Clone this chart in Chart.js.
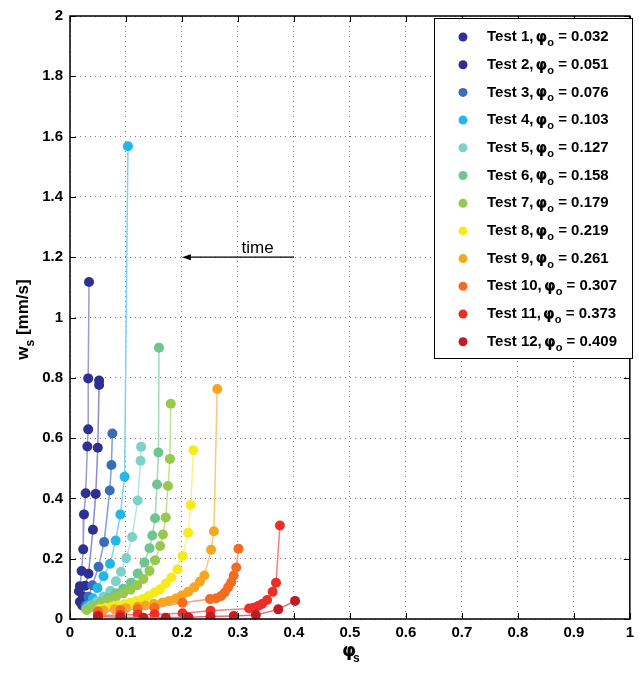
<!DOCTYPE html>
<html>
<head>
<meta charset="utf-8">
<script src="https://cdn.jsdelivr.net/npm/chart.js@4.4.1/dist/chart.umd.min.js"></script>
<style>
  html, body { margin: 0; padding: 0; background: #fff; }
  #wrap { width: 639px; height: 674px; }
</style>
</head>
<body>
<div id="wrap"><canvas id="settlingChart" width="639" height="674"></canvas></div>
<script>
// Test series: [phi_s, w_s (mm/s)]
const test1 = [[0.034,1.118],[0.0325,0.798],[0.0325,0.629],[0.031,0.572],[0.028,0.417],[0.025,0.347],[0.0236,0.231],[0.0207,0.159],[0.0177,0.109],[0.016,0.092],[0.0177,0.057],[0.022,0.045]];
const test2 = [[0.052,0.791],[0.052,0.776],[0.0496,0.568],[0.046,0.415],[0.041,0.296],[0.033,0.150],[0.027,0.11],[0.023,0.075],[0.026,0.045]];
const test3 = [[0.0757,0.615],[0.074,0.511],[0.071,0.426],[0.061,0.255],[0.051,0.173],[0.040,0.112],[0.033,0.074],[0.028,0.045]];
const test4 = [[0.1035,1.568],[0.0975,0.472],[0.090,0.347],[0.0816,0.260],[0.0715,0.183],[0.060,0.142],[0.049,0.103],[0.041,0.068],[0.032,0.045],[0.028,0.035]];
const test5 = [[0.127,0.571],[0.126,0.525],[0.121,0.393],[0.111,0.272],[0.1005,0.202],[0.091,0.157],[0.082,0.125],[0.072,0.093],[0.060,0.075],[0.048,0.058],[0.038,0.045],[0.030,0.035]];
const test6 = [[0.159,0.90],[0.158,0.552],[0.1555,0.446],[0.152,0.334],[0.147,0.277],[0.142,0.235],[0.133,0.187],[0.121,0.151],[0.109,0.120],[0.095,0.100],[0.082,0.085],[0.068,0.070],[0.055,0.055],[0.042,0.043],[0.030,0.032]];
const test7 = [[0.180,0.714],[0.1785,0.531],[0.175,0.441],[0.171,0.337],[0.166,0.280],[0.161,0.242],[0.152,0.195],[0.142,0.159],[0.131,0.133],[0.120,0.112],[0.108,0.097],[0.095,0.085],[0.082,0.073],[0.068,0.061],[0.055,0.050],[0.042,0.040],[0.030,0.030]];
const test8 = [[0.2204,0.560],[0.2157,0.3785],[0.211,0.286],[0.201,0.209],[0.192,0.165],[0.181,0.1375],[0.171,0.118],[0.161,0.099],[0.151,0.088],[0.1405,0.076],[0.130,0.066],[0.119,0.060],[0.108,0.054],[0.097,0.049],[0.086,0.045],[0.075,0.041],[0.064,0.037],[0.053,0.033]];
const test9 = [[0.263,0.763],[0.257,0.291],[0.252,0.230],[0.240,0.144],[0.232,0.124],[0.222,0.105],[0.211,0.090],[0.200,0.079],[0.189,0.068],[0.177,0.060],[0.165,0.055],[0.150,0.050],[0.135,0.045],[0.121,0.041],[0.100,0.036],[0.080,0.032],[0.060,0.028],[0.050,0.026]];
const test10 = [[0.301,0.233],[0.297,0.171],[0.2925,0.144],[0.288,0.122],[0.2825,0.105],[0.2766,0.088],[0.270,0.076],[0.261,0.069],[0.250,0.066],[0.201,0.054],[0.151,0.037],[0.121,0.033],[0.090,0.030],[0.050,0.025]];
const test11 = [[0.375,0.310],[0.368,0.120],[0.362,0.090],[0.352,0.063],[0.343,0.0495],[0.336,0.043],[0.328,0.037],[0.320,0.035],[0.251,0.027],[0.201,0.019],[0.151,0.016],[0.121,0.015],[0.090,0.013],[0.050,0.012]];
const test12 = [[0.402,0.060],[0.372,0.032],[0.332,0.013],[0.2925,0.010],[0.251,0.008],[0.2115,0.006],[0.171,0.004],[0.131,0.004],[0.090,0.006],[0.050,0.008]];

const allTests = [test1, test2, test3, test4, test5, test6, test7, test8, test9, test10, test11, test12];
const testNames = ['Test 1', 'Test 2', 'Test 3', 'Test 4', 'Test 5', 'Test 6', 'Test 7', 'Test 8', 'Test 9', 'Test 10', 'Test 11', 'Test 12'];
const phi0 = ['0.032', '0.051', '0.076', '0.103', '0.127', '0.158', '0.179', '0.219', '0.261', '0.307', '0.373', '0.409'];
const markerColors = ['#2e3192', '#2f2f8f', '#3b6cb7', '#22b6ea', '#7fd0c8', '#6fc48f', '#98c94d', '#f6ea1e', '#f8a520', '#f26c23', '#ec2f26', '#c41a24'];
const lineColors = ['#9a9ccc', '#8b8bc6', '#7d9fd2', '#7fd2f2', '#b6e5e0', '#a2dab7', '#c1df93', '#faf282', '#fac87a', '#f7a077', '#f3807a', '#dd7075'];

const xTicks = [0, 0.1, 0.2, 0.3, 0.4, 0.5, 0.6, 0.7, 0.8, 0.9, 1];
const yTicks = [0, 0.2, 0.4, 0.6, 0.8, 1, 1.2, 1.4, 1.6, 1.8, 2];

// Arrow annotation
const arrowFrom = [0.4, 1.2];
const arrowTo = [0.2, 1.2];

const boldFont = 'bold 15px "Liberation Sans", Arial, sans-serif';

// Draw frame, inward ticks, axis titles, arrow and legend
const decorations = {
    id: 'decorations',
    afterDraw(chart) {
        const ctx = chart.ctx;
        const area = chart.chartArea;
        const xs = chart.scales.x;
        const ys = chart.scales.y;

        ctx.save();
        // box
        ctx.strokeStyle = '#000';
        ctx.lineWidth = 1.5;
        ctx.strokeRect(area.left, area.top, area.right - area.left, area.bottom - area.top);

        // inward ticks
        ctx.lineWidth = 1;
        ctx.beginPath();
        xTicks.forEach(v => {
            const px = Math.round(xs.getPixelForValue(v)) + 0.5;
            ctx.moveTo(px, area.bottom); ctx.lineTo(px, area.bottom - 6);
            ctx.moveTo(px, area.top); ctx.lineTo(px, area.top + 6);
        });
        yTicks.forEach(v => {
            const py = Math.round(ys.getPixelForValue(v)) + 0.5;
            ctx.moveTo(area.left, py); ctx.lineTo(area.left + 6, py);
            ctx.moveTo(area.right, py); ctx.lineTo(area.right - 6, py);
        });
        ctx.stroke();

        // time arrow
        const ax1 = xs.getPixelForValue(arrowFrom[0]);
        const ax2 = xs.getPixelForValue(arrowTo[0]);
        const ay = ys.getPixelForValue(arrowFrom[1]);
        ctx.strokeStyle = '#000';
        ctx.lineWidth = 1.3;
        ctx.beginPath();
        ctx.moveTo(ax1, ay); ctx.lineTo(ax2 + 4, ay);
        ctx.stroke();
        ctx.fillStyle = '#000';
        ctx.beginPath();
        ctx.moveTo(ax2, ay);
        ctx.lineTo(ax2 + 9, ay - 3);
        ctx.lineTo(ax2 + 9, ay + 3);
        ctx.closePath();
        ctx.fill();
        ctx.font = '17px "Liberation Sans", Arial, sans-serif';
        ctx.textAlign = 'center';
        ctx.textBaseline = 'alphabetic';
        ctx.fillText('time', xs.getPixelForValue(0.335), ay - 4);

        // x axis title: phi_s
        ctx.font = 'bold 18px "DejaVu Sans", sans-serif';
        ctx.textAlign = 'left';
        const xtX = xs.getPixelForValue(0.5) - 8;
        const xtY = 656;
        ctx.fillText('\u03c6', xtX, xtY);
        ctx.font = 'bold 12px "Liberation Sans", Arial, sans-serif';
        ctx.fillText('s', xtX + 11, xtY + 6);

        // y axis title: w_s [mm/s]
        ctx.save();
        ctx.translate(28, ys.getPixelForValue(1) + 2);
        ctx.rotate(-Math.PI / 2);
        ctx.font = 'bold 17px "Liberation Sans", Arial, sans-serif';
        const wW = ctx.measureText('w').width;
        ctx.font = 'bold 12px "Liberation Sans", Arial, sans-serif';
        const sW = ctx.measureText('s').width;
        ctx.font = 'bold 17px "Liberation Sans", Arial, sans-serif';
        const restW = ctx.measureText(' [mm/s]').width;
        let cx = -(wW + sW + restW) / 2;
        ctx.fillText('w', cx, 0);
        ctx.font = 'bold 12px "Liberation Sans", Arial, sans-serif';
        ctx.fillText('s', cx + wW, 6);
        ctx.font = 'bold 17px "Liberation Sans", Arial, sans-serif';
        ctx.fillText(' [mm/s]', cx + wW + sW, 0);
        ctx.restore();

        // legend
        const lx = 434, ly = 18, lw = 198, lh = 340;
        ctx.fillStyle = '#fff';
        ctx.fillRect(lx, ly, lw, lh);
        ctx.strokeStyle = '#000';
        ctx.lineWidth = 1;
        ctx.strokeRect(lx + 0.5, ly + 0.5, lw, lh);
        testNames.forEach((name, i) => {
            const rowY = 37 + i * 27.7;
            ctx.fillStyle = markerColors[i];
            ctx.beginPath();
            ctx.arc(463, rowY, 4.5, 0, Math.PI * 2);
            ctx.fill();
            ctx.fillStyle = '#000';
            ctx.textBaseline = 'middle';
            ctx.font = boldFont;
            let tx = 487;
            const head = name + ', ';
            ctx.fillText(head, tx, rowY);
            tx += ctx.measureText(head).width - 2;
            ctx.font = 'bold 15px "DejaVu Sans", sans-serif';
            ctx.fillText('\u03c6', tx, rowY + 1);
            tx += ctx.measureText('\u03c6').width;
            ctx.font = 'bold 11px "Liberation Sans", Arial, sans-serif';
            ctx.fillText('o', tx, rowY + 6);
            tx += ctx.measureText('o').width;
            ctx.font = boldFont;
            ctx.fillText(' = ' + phi0[i], tx, rowY);
        });
        ctx.restore();
    }
};

const datasets = allTests.map((pts, i) => ({
    label: testNames[i] + ', \u03c6o = ' + phi0[i],
    data: pts.map(p => ({ x: p[0], y: p[1] })),
    showLine: true,
    borderColor: lineColors[i],
    borderWidth: 1.5,
    backgroundColor: markerColors[i],
    pointBackgroundColor: markerColors[i],
    pointBorderColor: markerColors[i],
    pointRadius: 5,
    pointBorderWidth: 0,
    tension: 0,
    order: 12 - i
}));

const gridOpts = { color: '#777', lineWidth: 1, drawTicks: false };
const borderOpts = { display: false, dash: [1, 4] };

const ctx = document.getElementById('settlingChart').getContext('2d');
new Chart(ctx, {
    type: 'scatter',
    data: { datasets: datasets },
    options: {
        responsive: false,
        animation: false,
        events: [],
        layout: { padding: { top: 13, right: 5, left: 0, bottom: 0 } },
        plugins: {
            legend: { display: false },
            tooltip: { enabled: false }
        },
        scales: {
            x: {
                type: 'linear',
                min: 0,
                max: 1,
                afterFit: scale => { scale.height = 55; },
                afterBuildTicks: scale => { scale.ticks = xTicks.map(v => ({ value: v })); },
                ticks: {
                    color: '#000',
                    font: { family: '"Liberation Sans", Arial, sans-serif', size: 15, weight: 'bold' },
                    padding: 5,
                    maxRotation: 0,
                    callback: v => String(+v.toFixed(1))
                },
                grid: gridOpts,
                border: borderOpts
            },
            y: {
                type: 'linear',
                min: 0,
                max: 2,
                afterFit: scale => { scale.width = 70; },
                afterBuildTicks: scale => { scale.ticks = yTicks.map(v => ({ value: v })); },
                ticks: {
                    color: '#000',
                    font: { family: '"Liberation Sans", Arial, sans-serif', size: 15, weight: 'bold' },
                    padding: 7,
                    callback: v => String(+v.toFixed(1))
                },
                grid: gridOpts,
                border: borderOpts
            }
        }
    },
    plugins: [decorations]
});
</script>
</body>
</html>
